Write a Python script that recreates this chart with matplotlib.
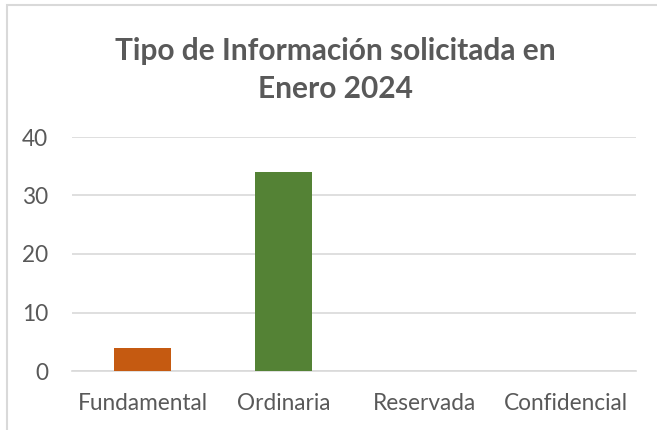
import matplotlib
matplotlib.use("Agg")
import matplotlib.pyplot as plt
from matplotlib.patches import Rectangle

categories = ["Fundamental", "Ordinaria", "Reservada", "Confidencial"]
values = [4, 34, 0, 0]
colors = ["#C55A11", "#548235", "#A5A5A5", "#FFC000"]
yticks = [0, 10, 20, 30, 40]
title = "Tipo de Información solicitada en\nEnero 2024"

plt.rcParams['font.family'] = ['Lato', 'DejaVu Sans']
W, H = 657, 430
fig = plt.figure(figsize=(W / 100, H / 100), dpi=100)
fig.patch.set_facecolor("white")

# outer chart frame (partly cropped)
fig.add_artist(Rectangle((7 / W, -0.1), 1.2, (H - 5) / H + 0.1, transform=fig.transFigure,
                         fill=False, edgecolor="#D9D9D9", linewidth=1.5))

ax = fig.add_axes([72 / W, 59 / H, 564 / W, 234 / H])
x = range(len(categories))
ax.bar(x, values, width=0.404, color=colors, zorder=3)
ax.set_xlim(-0.5, len(categories) - 0.5)
ax.set_ylim(0, 40)
ax.set_yticks(yticks)
ax.set_xticks(list(x))
ax.set_xticklabels(categories)
ax.yaxis.grid(True, color="#D9D9D9", linewidth=1.2, zorder=0)
for s in ["top", "right", "left"]:
    ax.spines[s].set_visible(False)
ax.spines["bottom"].set_color("#D9D9D9")
ax.spines["bottom"].set_linewidth(1.2)
ax.tick_params(axis="both", length=0, labelsize=16.3, labelcolor="#595959")
ax.tick_params(axis="y", pad=17)
ax.tick_params(axis="x", pad=16)

fig.text(335 / W, 1 - 70 / H, title, ha="center", va="center", fontsize=21.5,
         fontweight="bold", color="#595959", linespacing=1.4)

fig.savefig("out.png", dpi=100)
